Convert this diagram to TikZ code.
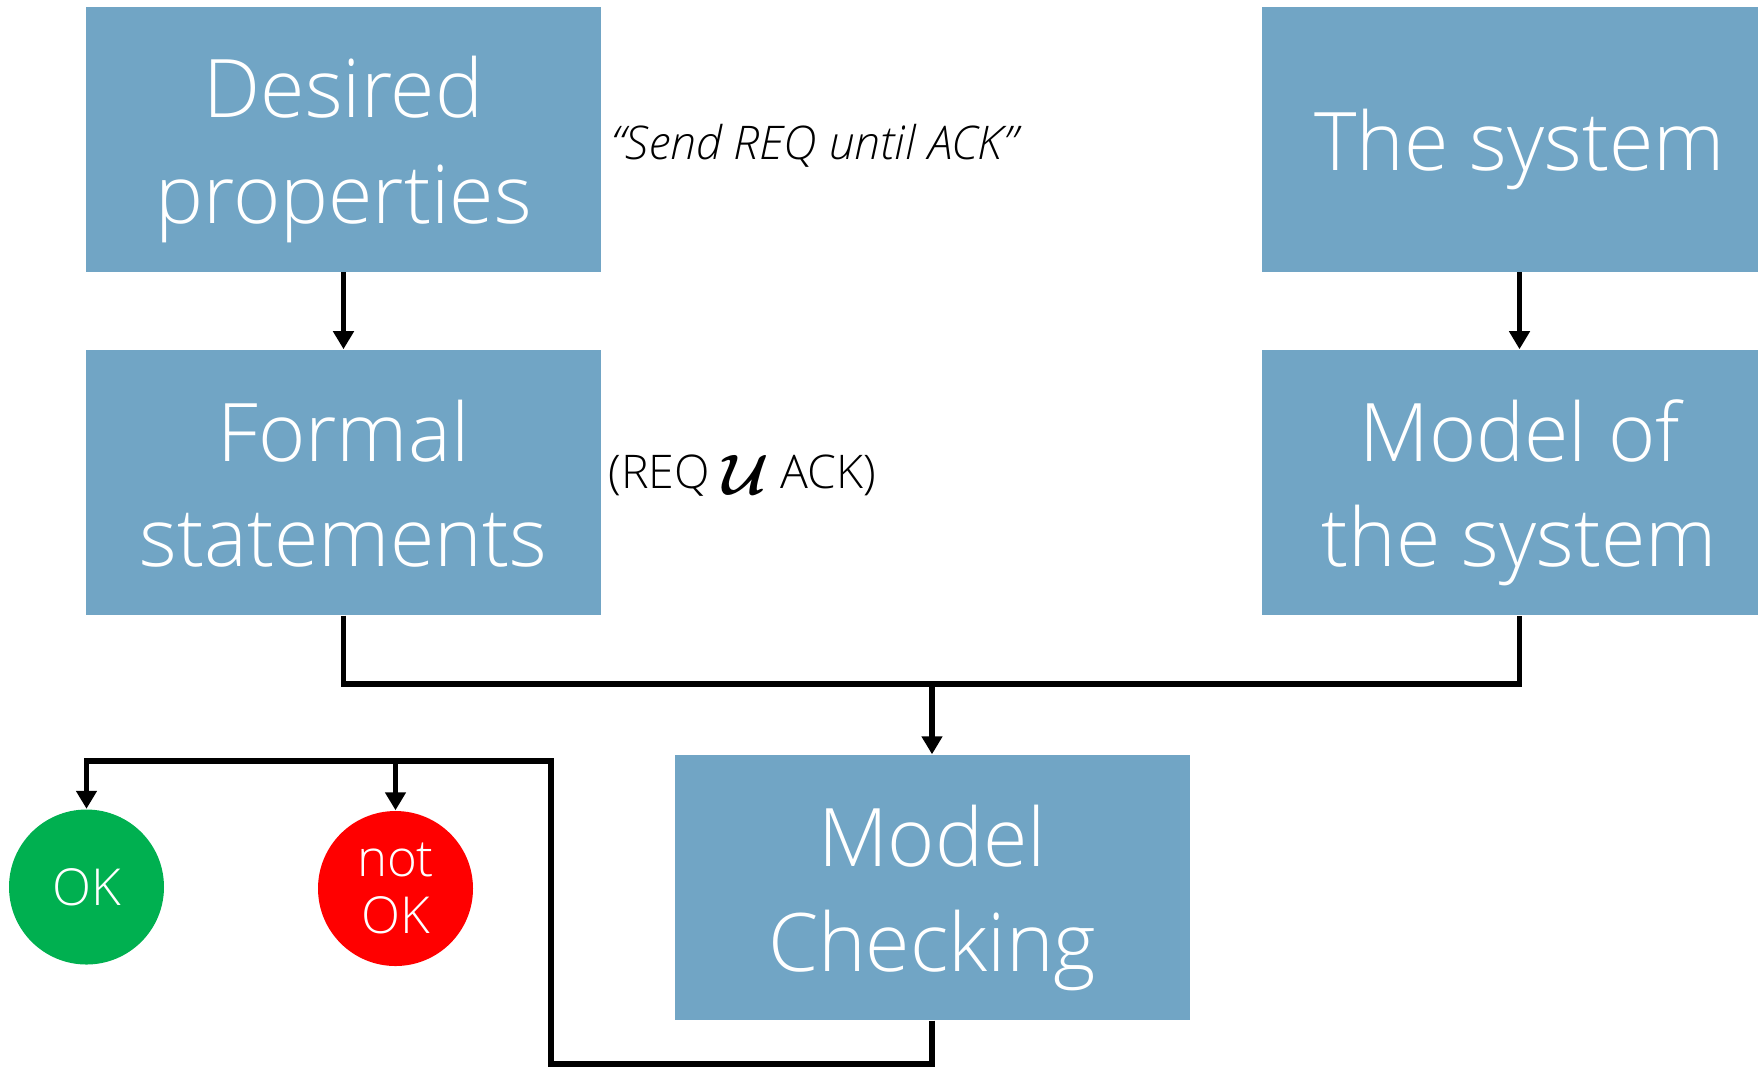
\documentclass[tikz,border=0pt]{standalone}
\usepackage{amsmath,amssymb,bm}
\usepackage{fontspec}
\IfFontExistsTF{Open Sans Light}{\setmainfont{Open Sans Light}}{\setmainfont{Open Sans}}
\usetikzlibrary{arrows.meta,positioning,calc}
\definecolor{boxblue}{RGB}{113,165,197}
\definecolor{okgreen}{RGB}{0,176,80}
\definecolor{nokred}{RGB}{255,0,0}
\newcommand{\lift}{\rule{0pt}{24pt}}
\newcommand{\dip}{\rule[-6pt]{0pt}{6pt}}
\tikzset{
	wire/.style={line width=1.6pt},
	arr/.style={wire,-{Triangle[width=0.2cm,length=0.18cm]}}
}

\begin{document}
\begin{tikzpicture}[
	box/.style={fill=boxblue,text=white,minimum width=5.15cm,minimum height=2.65cm,align=center,inner sep=0pt,font=\fontsize{23}{30}\selectfont},
	verdict/.style={circle,minimum size=1.55cm,inner sep=0pt,text=white,align=center,font=\fontsize{14.5}{16}\selectfont},
	note/.style={anchor=west,inner sep=0pt,font=\fontsize{13.2}{16}\selectfont}
	]
	\useasboundingbox (0,0) rectangle (17.58,-10.67);
	% left column
	\node[box] (dp) at (3.435,-1.39) {\lift Desired\\properties\dip};
	\node[box, below=0.77cm of dp] (fs) {\lift Formal\\statements\dip};
	% right column
	\node[box] (sys) at (15.195,-1.39) {\lift The system\dip};
	\node[box, below=0.77cm of sys] (ms) {\lift Model of\\the system\dip};
	\node[box] (mc) at (9.32,-8.875) {\lift Model\\Checking\dip};
	% results
	\node[verdict,fill=okgreen] (ok) at (0.865,-8.87) {OK};
	\node[verdict,fill=nokred] (nok) at (3.955,-8.885) {not\\OK};
	% notes
	\node[note] (said) at (6.11,-1.46) {\itshape ``Send REQ until ACK''};
	\node[note] (ltl) at (6.08,-4.76) {(REQ \raisebox{-0.12em}{\scalebox{1.35}{$\bm{\mathcal{U}}$}} ACK)};
	
	\coordinate (jn) at (9.32,-6.84);
	\coordinate (lowc) at (5.51,-10.64);
	\coordinate (topc) at (5.51,-7.61);
	
	\draw[arr] (dp) -- (fs);
	\draw[arr] (sys) -- (ms);
	\draw[wire] (fs.south) |- (jn) -| (ms.south);
	\draw[arr] (jn) -- (mc.north);
	\draw[arr] (mc.south) |- (lowc) -- (topc) -| (ok.north);
	\draw[arr] (nok.north |- topc) -- (nok.north);
\end{tikzpicture}
\end{document}
